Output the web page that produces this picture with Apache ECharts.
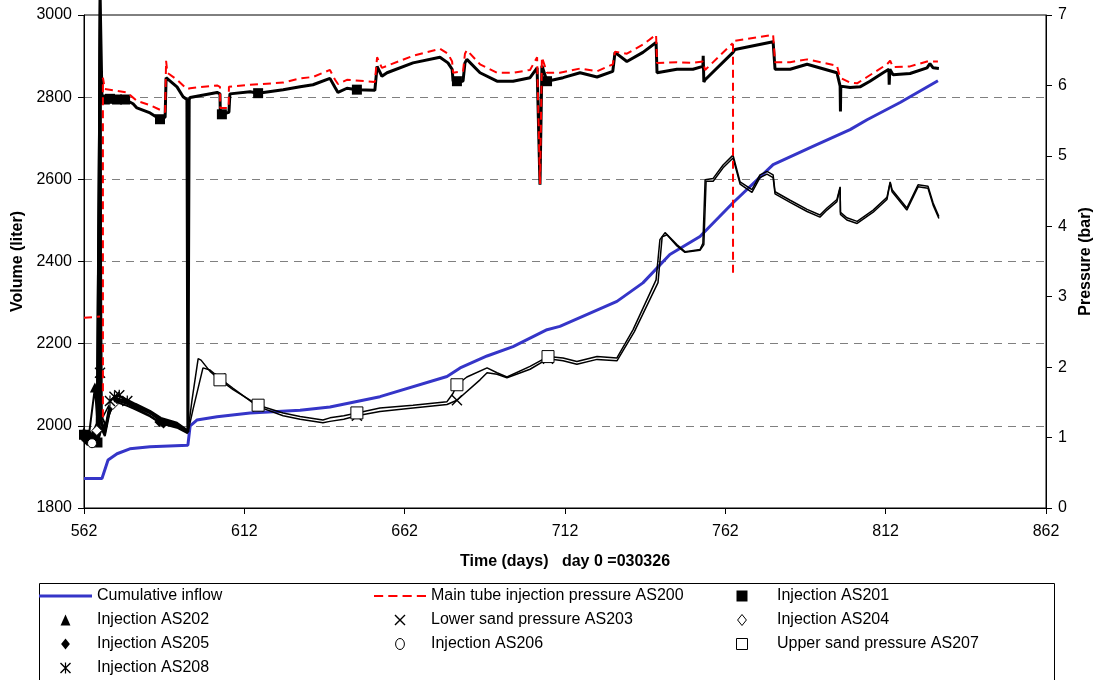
<!DOCTYPE html>
<html>
<head>
<meta charset="utf-8">
<title>Injection test</title>
<script src="https://cdn.jsdelivr.net/npm/echarts@6/dist/echarts.min.js"></script>
<style>
  body { margin: 0; background: #fff; }
  #chart { width: 1097px; height: 680px; }
</style>
</head>
<body>
<div id="chart"></div>
<script>
var xTicks = [562, 612, 662, 712, 762, 812, 862];

// cumulative inflow, [day, liter]
var inflow = [[562.0,1872],[567.6,1872],[569.5,1917],[572.3,1932],[576.3,1944],[582.6,1949],[594.4,1953],
  [595.1,2000],[597.2,2014],[603.5,2022],[613.8,2031],[629.4,2038],[638.7,2046],[654.3,2071],[675.2,2120],
  [679.3,2141],[687.7,2170],[695.8,2193],[706.4,2234],[710.4,2242],[728.2,2303],[736.3,2348],[744.7,2417],
  [754.1,2461],[764.4,2543],[776.9,2636],[789.3,2680],[800.9,2721],[806.2,2745],[816.5,2787],[828.3,2840]];

// main tube injection pressure, [day, bar]; '-' marks a gap in the record
var as200 = [[562.0,2.70],[567.0,2.72],[567.4,'-'],[567.9,1.29],[567.9,6.11],[568.5,5.95],[575.4,5.90],[578.5,5.78],
  [582.6,5.72],[587.3,5.62],[587.6,6.35],[588.0,6.18],[591.0,6.08],[594.1,5.95],[595.1,5.96],[603.5,6.00],
  [604.4,5.98],[604.5,5.68],[607.1,5.68],[607.2,5.98],[613.8,6.01],[624.1,6.04],[629.4,6.10],[633.4,6.12],
  [638.7,6.22],[640.3,6.08],[641.2,6.02],[644.0,6.08],[652.7,6.05],[653.4,6.40],[654.9,6.25],[664.6,6.42],
  [673.0,6.52],[675.5,6.45],[676.8,6.34],[677.1,6.18],[680.2,6.20],[680.8,6.45],[681.4,6.50],[685.5,6.30],
  [690.8,6.18],[695.8,6.18],[701.1,6.22],[703.3,6.40],[704.2,4.60],[704.8,6.40],[706.4,6.18],[710.4,6.18],
  [716.7,6.24],[722.0,6.20],[726.9,6.30],[727.6,6.48],[731.3,6.45],[736.3,6.58],[740.4,6.72],[740.7,6.32],
  [746.9,6.33],[751.9,6.32],[755.0,6.34],[755.7,6.22],[764.3,6.60],[764.35,'-'],[764.4,3.34],[764.4,6.63],[765.0,6.64],
  [776.9,6.72],[777.5,6.33],[782.2,6.33],[787.5,6.37],[796.8,6.28],[797.8,6.11],[800.9,6.04],[803.1,6.03],
  [806.2,6.12],[812.4,6.30],[813.4,6.35],[814.3,6.26],[819.6,6.27],[824.9,6.34],[828.3,6.34]];

var as201 = [[562.0,1.04],[562.8,1.02],[563.6,1.00],[564.5,0.98],[565.3,0.95],[566.2,0.93],[566.8,1.05],[567.0,7.3],
  [567.6,5.83],[568.5,5.80],[570.1,5.81],[572.3,5.80],[574.8,5.80],[577.3,5.74],[578.5,5.68],
  [582.6,5.61],[585.7,5.52],[587.3,5.55],[587.6,6.11],[591.0,5.98],[592.9,5.84],[594.1,5.80],[594.4,1.08],
  [594.8,5.80],[595.1,5.83],[603.5,5.90],[604.4,5.88],[604.5,5.62],[605.0,5.59],[607.2,5.62],[607.5,5.88],
  [613.8,5.91],[616.3,5.89],[624.1,5.94],[629.4,5.98],[633.4,6.01],[638.7,6.10],[640.3,5.97],[641.2,5.90],
  [644.0,5.96],[647.1,5.94],[652.7,5.93],[653.4,6.27],[654.9,6.13],[656.5,6.18],[664.6,6.32],[673.0,6.40],
  [675.5,6.32],[676.8,6.23],[677.1,6.06],[678.3,6.06],[680.2,6.06],[680.8,6.32],[681.4,6.37],[685.5,6.18],
  [690.8,6.06],[695.8,6.06],[701.1,6.11],[703.3,6.25],[704.2,4.59],[704.8,6.28],[706.4,6.06],[711.4,6.11],
  [716.7,6.18],[722.0,6.12],[726.9,6.20],[727.6,6.47],[731.3,6.34],[736.3,6.47],[740.4,6.61],[740.7,6.18],
  [746.9,6.23],[751.9,6.23],[755.0,6.27],[755.1,6.42],[755.3,6.05],[755.7,6.08],[764.4,6.47],[765.0,6.51],
  [776.9,6.62],[777.5,6.23],[782.2,6.23],[787.5,6.30],[796.8,6.18],[797.8,5.99],[797.9,5.63],[798.0,5.99],
  [800.9,5.97],[804.0,5.98],[807.1,6.06],[811.2,6.18],[813.0,6.23],[813.1,6.01],[813.3,6.23],[814.3,6.15],
  [819.6,6.17],[824.9,6.25],[825.8,6.31],[826.8,6.25],[828.6,6.24]];
var as201Marks = [562.0, 562.8, 563.6, 564.5, 565.3, 566.2, 568.5, 570.1, 572.3, 574.8, 585.7, 605.0, 616.3, 647.1, 678.3, 706.4];

var as202 = [[562.0,1.08],[563.5,1.02],[565.4,1.71],[566.3,1.15],[567.0,7.3],[567.4,1.25],[568.5,1.10],
  [569.5,1.35],[570.6,1.50],[572.3,1.60],[575.0,1.55],[578.0,1.48],[582.6,1.38],[586.0,1.28],[591.0,1.21],[594.4,1.10]];
var as202Marks = [562.0, 565.4];

var as203 = [[562.0,1.00],[564.0,0.96],[566.0,1.02],[567.0,1.92],[567.5,1.20],[568.5,1.05],[570.1,1.46],
  [572.3,1.54],[577.3,1.45],[582.6,1.34],[584.8,1.27],[587.9,1.21],[591.0,1.17],[594.4,1.07],[596.0,1.40],
  [599.1,1.99],[601.3,1.96],[604.4,1.84],[608.5,1.70],[616.3,1.44],[624.1,1.31],[629.4,1.26],[636.5,1.21],
  [638.7,1.23],[643.0,1.26],[647.1,1.31],[654.3,1.37],[664.6,1.42],[675.2,1.47],[678.3,1.53],[685.5,1.82],
  [687.7,1.92],[690.8,1.90],[693.9,1.85],[701.1,1.97],[706.7,2.12],[711.4,2.09],[715.7,2.04],[722.0,2.11],
  [728.2,2.09],[733.6,2.50],[741.0,3.20],[742.3,3.85],[743.8,3.88],[746.9,3.72],[749.4,3.63],[754.1,3.66],
  [755.3,3.74],[756.0,4.64],[758.2,4.64],[761.3,4.83],[764.4,4.97],[766.6,4.60],[770.3,4.48],[772.8,4.69],
  [775.0,4.74],[776.9,4.69],[777.5,4.46],[782.2,4.34],[787.5,4.21],[791.5,4.13],[793.7,4.23],[796.8,4.35],
  [797.8,4.55],[797.9,4.17],[799.9,4.09],[803.1,4.04],[808.1,4.20],[812.4,4.38],[813.4,4.62],[814.0,4.49],
  [818.6,4.23],[822.1,4.56],[825.2,4.54],[826.8,4.30],[828.6,4.11]];
var as203Marks = [567.0, 604.4, 616.3, 647.1, 678.3, 706.7];

var as204 = [[562.0,1.02],[564.0,0.98],[566.0,1.10],[567.0,7.3],[567.4,1.20],[568.5,1.05],[569.5,1.30],
  [571.0,1.47],[573.0,1.55],[575.0,1.52],[578.0,1.45],[582.6,1.35],[586.0,1.26],[591.0,1.19],[594.4,1.09]];
var as204Marks = [566.0, 571.0];

var as205 = [[562.0,1.00],[563.0,0.95],[565.0,0.93],[566.5,1.05],[567.2,1.15],[568.5,1.02],[570.0,1.36],
  [572.3,1.52],[575.0,1.49],[578.0,1.42],[582.6,1.31],[585.5,1.22],[586.8,1.20],[591.0,1.16],[594.4,1.07]];
var as205Marks = [562.0, 563.0, 565.0, 585.5, 586.8];

var as206 = [[562.0,0.97],[564.5,0.92],[566.5,1.00],[567.6,1.12],[569.0,1.22],[570.6,1.42],[572.3,1.50],
  [575.0,1.46],[578.0,1.40],[582.6,1.30],[586.0,1.20],[591.0,1.14],[594.4,1.06]];
var as206Marks = [564.5];

var as207 = [[562.0,1.02],[564.0,1.00],[566.0,1.05],[567.0,1.25],[568.0,1.30],[570.1,1.49],[572.3,1.56],
  [577.3,1.46],[582.6,1.35],[584.8,1.28],[587.9,1.22],[591.0,1.18],[594.4,1.08],[595.7,1.54],[597.6,2.12],
  [598.5,2.10],[601.3,1.94],[604.4,1.82],[608.5,1.68],[616.3,1.46],[624.1,1.35],[629.4,1.30],[636.5,1.25],
  [638.7,1.28],[643.0,1.31],[647.1,1.35],[654.3,1.42],[664.6,1.46],[675.2,1.51],[677.1,1.63],[678.3,1.75],
  [681.4,1.86],[687.7,1.99],[690.8,1.92],[693.9,1.86],[701.1,2.01],[706.7,2.15],[711.4,2.13],[715.7,2.08],
  [722.0,2.15],[728.2,2.13],[733.2,2.53],[740.4,3.24],[741.6,3.81],[743.2,3.91],[746.9,3.74],[749.4,3.64],
  [754.1,3.67],[755.0,3.76],[755.7,4.66],[758.2,4.68],[761.3,4.87],[764.4,5.01],[766.6,4.63],[770.3,4.52],
  [772.8,4.73],[775.0,4.78],[776.9,4.73],[777.5,4.49],[782.2,4.37],[787.5,4.24],[791.5,4.16],[793.7,4.26],
  [796.8,4.38],[797.8,4.56],[797.9,4.20],[799.9,4.12],[803.1,4.07],[808.1,4.23],[812.4,4.41],[813.4,4.63],
  [814.0,4.52],[818.6,4.26],[822.1,4.59],[825.2,4.57],[826.8,4.33],[828.6,4.14]];
var as207Marks = [604.4, 616.3, 647.1, 678.3, 706.7];

var as208 = [[562.0,1.05],[564.0,1.00],[566.0,1.20],[567.0,7.3],[567.5,1.30],[569.0,1.15],[570.1,1.52],
  [571.5,1.58],[573.0,1.60],[575.5,1.52],[578.0,1.46],[582.6,1.36],[586.0,1.26],[591.0,1.20],[594.4,1.09]];
var as208Marks = [570.1, 571.5, 573.0, 575.5];

var crossPath = 'path://M0,0.9L0.9,0L10,9.1L9.1,10Z M9.1,0L10,0.9L0.9,10L0,9.1Z';
var starPath = 'path://M0,0.9L0.9,0L10,9.1L9.1,10Z M9.1,0L10,0.9L0.9,10L0,9.1Z M4.45,0L5.55,0L5.55,10L4.45,10Z';
// legend icons as paths so they keep their aspect
var triIcon = 'path://M5,0L9.5,10L0.5,10Z';
var rectIcon = 'path://M0,0L9,0L9,9L0,9Z';
var diamIcon = 'path://M4,0L8,5L4,10L0,5Z';
var circIcon = 'path://M4,0A4,5,0,1,1,3.99,0Z';
var lineIcon = 'path://M0,0L53,0L53,3L0,3Z';
var dashIcon = 'path://M0,0L9,0L9,2L0,2Z M14,0L23,0L23,2L14,2Z M28,0L37,0L37,2L28,2Z M42,0L51,0L51,2L42,2Z';
var font = '"Liberation Sans", Arial, sans-serif';
var hollow = { color: '#fff', borderColor: '#000', borderWidth: 1 };
var solid = { color: '#000', borderWidth: 0 };

function injSeries(name, pts, marks, sym, size, style, width, noClip) {
    return {
        name: name,
        type: 'line',
        yAxisIndex: 1,
        symbol: 'none',
        showAllSymbol: true,
        symbolSize: size,
        clip: !noClip,
        data: pts.map(function (p) {
            return marks.indexOf(p[0]) >= 0 ? { value: p, symbol: sym } : p;
        }),
        lineStyle: { color: '#000', width: width },
        itemStyle: style,
        z: 3
    };
}

function plain(v) { return String(v); }

var legendBase = {
    top: 588, bottom: 0, orient: 'vertical', padding: 0,
    itemHeight: 11, itemGap: 8, selectedMode: false, symbolKeepAspect: true,
    textStyle: { fontSize: 16, color: '#000', fontFamily: font, lineHeight: 16 }
};

var myChart = echarts.init(document.getElementById('chart'));

var option = {
    backgroundColor: '#fff',
    animation: false,
    textStyle: { fontFamily: font },
    grid: {
        left: 84, right: 51, top: 15, bottom: 172,
        outerBoundsMode: 'none',
        show: true, borderColor: '#000', borderWidth: 1
    },
    xAxis: {
        type: 'value',
        min: 562,
        max: 862,
        name: 'Time (days)   day 0 =030326',
        nameLocation: 'middle',
        nameGap: 46,
        nameTextStyle: { fontSize: 16, fontWeight: 'bold', color: '#000', fontFamily: font },
        axisLine: { lineStyle: { color: '#000', width: 1 } },
        axisTick: { customValues: xTicks, length: 6, lineStyle: { color: '#000' } },
        axisLabel: { customValues: xTicks, formatter: plain, margin: 16, fontSize: 16, color: '#000', fontFamily: font },
        splitLine: { show: false }
    },
    yAxis: [{
        type: 'value',
        min: 1800,
        max: 3000,
        interval: 200,
        name: 'Volume (liter)',
        nameLocation: 'middle',
        nameRotate: 90,
        nameGap: 54,
        nameTextStyle: { fontSize: 16, fontWeight: 'bold', color: '#000', fontFamily: font },
        axisLine: { show: true, lineStyle: { color: '#000', width: 1 } },
        axisTick: { show: true, length: 6, lineStyle: { color: '#000' } },
        axisLabel: { formatter: plain, margin: 12, fontSize: 16, color: '#000', fontFamily: font },
        splitLine: { show: true, showMinLine: false, showMaxLine: false, lineStyle: { color: '#808080', width: 1, type: [8, 6] } }
    }, {
        type: 'value',
        min: 0,
        max: 7,
        interval: 1,
        position: 'right',
        name: 'Pressure (bar)',
        nameLocation: 'middle',
        nameRotate: 90,
        nameGap: 31,
        nameTextStyle: { fontSize: 16, fontWeight: 'bold', color: '#000', fontFamily: font },
        axisLine: { show: true, lineStyle: { color: '#000', width: 1 } },
        axisTick: { show: true, length: 6, lineStyle: { color: '#000' } },
        axisLabel: { formatter: plain, margin: 12, fontSize: 16, color: '#000', fontFamily: font },
        splitLine: { show: false }
    }],
    legend: [
        Object.assign({}, legendBase, {
            left: 39, itemWidth: 53,
            data: [
                { name: 'Cumulative inflow', icon: lineIcon, itemStyle: { color: '#3535c8', borderWidth: 0 } },
                { name: 'Injection AS202', icon: triIcon, itemStyle: solid },
                { name: 'Injection AS205', icon: diamIcon, itemStyle: solid },
                { name: 'Injection AS208', icon: starPath, itemStyle: solid }
            ]
        }),
        Object.assign({}, legendBase, {
            left: 374, itemWidth: 52,
            data: [
                { name: 'Main tube injection pressure AS200', icon: dashIcon, itemStyle: { color: '#ff0000', borderWidth: 0 } },
                { name: 'Lower sand pressure AS203', icon: crossPath, itemStyle: solid },
                { name: 'Injection AS206', icon: circIcon, itemStyle: hollow }
            ]
        }),
        Object.assign({}, legendBase, {
            left: 736, itemWidth: 60,
            data: [
                { name: 'Injection AS201', icon: rectIcon, itemStyle: solid },
                { name: 'Injection AS204', icon: diamIcon, itemStyle: hollow },
                { name: 'Upper sand pressure AS207', icon: rectIcon, itemStyle: hollow }
            ]
        })
    ],
    graphic: [{
        type: 'rect',
        left: 37,
        top: 581,
        shape: { width: 1015, height: 98 },
        style: { fill: 'none', stroke: '#000', lineWidth: 1 }
    }],
    series: [
        {
            name: 'Cumulative inflow',
            type: 'line',
            yAxisIndex: 0,
            symbol: 'none',
            data: inflow,
            lineStyle: { color: '#3535c8', width: 3 },
            itemStyle: { color: '#3535c8' },
            z: 2
        },
        injSeries('Injection AS201', as201, as201Marks, 'rect', 10, solid, 3, true),
        injSeries('Injection AS202', as202, as202Marks, 'triangle', 10, solid, 2, true),
        injSeries('Lower sand pressure AS203', as203, as203Marks, crossPath, 11, solid, 1.5, false),
        injSeries('Injection AS204', as204, as204Marks, 'diamond', 10, hollow, 2, true),
        injSeries('Injection AS205', as205, as205Marks, 'diamond', 10, solid, 2, false),
        injSeries('Injection AS206', as206, as206Marks, 'circle', 9, hollow, 2, false),
        injSeries('Upper sand pressure AS207', as207, as207Marks, 'rect', 12, hollow, 1.5, false),
        injSeries('Injection AS208', as208, as208Marks, starPath, 11, solid, 2, true),
        {
            name: 'Main tube injection pressure AS200',
            type: 'line',
            yAxisIndex: 1,
            symbol: 'none',
            connectNulls: false,
            data: as200,
            lineStyle: { color: '#ff0000', width: 2, type: [8, 5] },
            itemStyle: { color: '#ff0000' },
            z: 4
        }
    ]
};

myChart.setOption(option);
</script>
</body>
</html>
